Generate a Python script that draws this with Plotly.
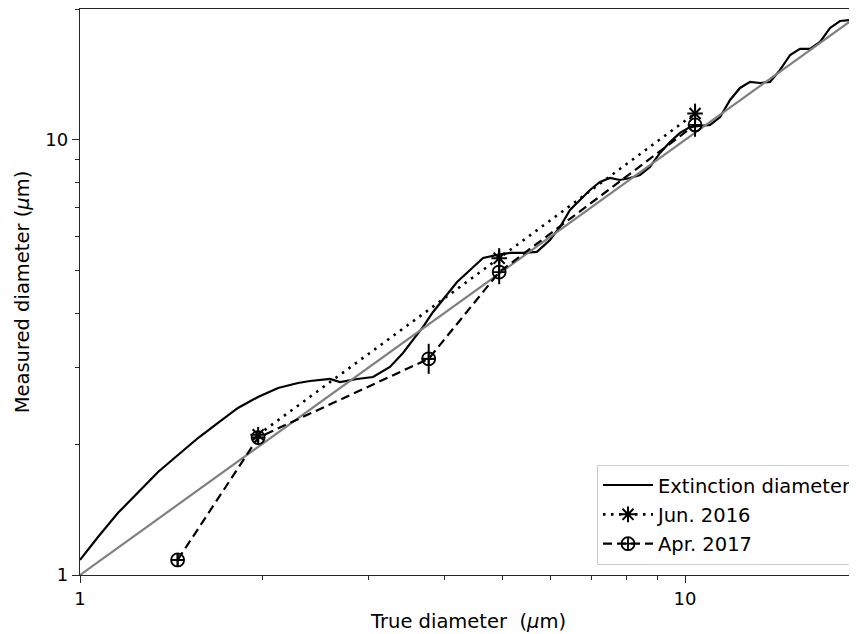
import plotly.graph_objects as go

# Extinction diameter curve (true diameter, measured diameter), micrometres
ext_x = [1.000, 1.071, 1.155, 1.247, 1.346, 1.452, 1.567, 1.691, 1.824, 1.969,
         2.125, 2.293, 2.400, 2.590, 2.690, 2.870, 3.050, 3.253, 3.419, 3.551,
         3.690, 3.833, 3.981, 4.200, 4.413, 4.637, 4.891, 5.137, 5.398, 5.692,
         5.981, 6.215, 6.455, 6.706, 6.966, 7.236, 7.517, 7.808, 8.111, 8.425,
         8.752, 9.092, 9.445, 9.811, 10.19, 11.00, 11.43, 11.87, 12.33, 12.81,
         13.30, 13.82, 14.36, 14.92, 15.49, 16.09, 16.72, 17.37, 18.04, 18.74, 19.24]
ext_y = [1.083, 1.223, 1.388, 1.552, 1.725, 1.887, 2.065, 2.236, 2.421, 2.566,
         2.691, 2.763, 2.792, 2.822, 2.777, 2.822, 2.852, 3.007, 3.238, 3.470,
         3.717, 4.023, 4.288, 4.716, 5.025, 5.355, 5.441, 5.500, 5.500, 5.529,
         5.890, 6.310, 6.904, 7.280, 7.675, 8.006, 8.178, 8.091, 8.178, 8.310,
         8.667, 9.336, 9.894, 10.38, 10.71, 10.83, 11.29, 12.36, 13.17, 13.60,
         13.52, 13.60, 14.49, 15.68, 16.19, 16.19, 16.80, 18.09, 18.77, 18.87, 19.17]

# 1:1 reference line
ref_x = [1, 20]
ref_y = [1, 20]

# Jun. 2016 measurements
jun_x = [1.97, 4.93, 10.39]
jun_y = [2.10, 5.35, 11.50]
jun_err_plus = [0.05, 0.29, 0.62]
jun_err_minus = [0.05, 0.27, 0.59]

# Apr. 2017 measurements
apr_x = [1.45, 1.97, 3.77, 4.93, 10.39]
apr_y = [1.083, 2.07, 3.14, 4.97, 10.83]
apr_err_plus = [0.04, 0.05, 0.26, 0.33, 0.71]
apr_err_minus = [0.04, 0.05, 0.24, 0.31, 0.66]
apr_xerr = [0.03, 0.04, 0.10, 0.0, 0.0]

major_ticks = [1, 10]
major_labels = ["1", "10"]
minor_ticks = [2, 3, 4, 5, 6, 7, 8, 9, 20]

FONT = "DejaVu Sans"

fig = go.Figure()

fig.add_trace(go.Scatter(
    x=ext_x, y=ext_y, mode="lines", name="Extinction diameter",
    legendgroup="a",
    line=dict(color="black", width=2.2),
))
fig.add_trace(go.Scatter(
    x=ref_x, y=ref_y, mode="lines", showlegend=False,
    line=dict(color="#808080", width=2.2),
))
fig.add_trace(go.Scatter(
    x=jun_x, y=jun_y, mode="lines+markers", name="Jun. 2016",
    legendgroup="b",
    line=dict(color="black", width=2.6, dash="2.5px,5.5px"),
    marker=dict(symbol="asterisk-open", size=13, color="black",
                line=dict(color="black", width=2)),
    error_y=dict(type="data", symmetric=False, array=jun_err_plus,
                 arrayminus=jun_err_minus, color="black", thickness=2, width=0),
))
fig.add_trace(go.Scatter(
    x=apr_x, y=apr_y, mode="lines+markers", name="Apr. 2017",
    legendgroup="c",
    line=dict(color="black", width=2.2, dash="9px,5px"),
    marker=dict(symbol="circle-cross-open", size=13, color="black",
                line=dict(color="black", width=1.8)),
    error_y=dict(type="data", symmetric=False, array=apr_err_plus,
                 arrayminus=apr_err_minus, color="black", thickness=2, width=0),
    error_x=dict(type="data", array=apr_xerr, color="black", thickness=2, width=0),
))

axis_common = dict(
    type="log",
    showgrid=False,
    zeroline=False,
    showline=True,
    linecolor="#262626",
    linewidth=1.4,
    ticks="outside",
    ticklen=7,
    tickwidth=1.2,
    tickcolor="#262626",
    tickvals=major_ticks,
    ticktext=major_labels,
    tickfont=dict(family=FONT, size=18, color="black"),
    minor=dict(ticks="outside", ticklen=4, tickwidth=1, tickcolor="#262626",
               tickvals=minor_ticks, showgrid=False),
)

fig.update_xaxes(
    **axis_common,
    range=[0, 1.2843],
    mirror=True,
    title=dict(text="True diameter\u00a0 (<i>μ</i>m)", font=dict(family=FONT, size=19.5, color="black"),
               standoff=6),
)
fig.update_yaxes(
    **axis_common,
    range=[0, 1.30103],
    mirror=False,
    title=dict(text="Measured diameter (<i>μ</i>m)", font=dict(family=FONT, size=19.5, color="black"),
               standoff=10),
)

# The page body has an 8px margin, so the figure is placed 8px in from the
# window's top-left corner; size and margins compensate for that.
fig.update_layout(
    width=849, height=626,
    margin=dict(l=72, r=0, t=1, b=59),
    paper_bgcolor="white",
    plot_bgcolor="white",
    font=dict(family=FONT, size=19.5, color="black"),
    legend=dict(
        x=1.0, y=0.018, xanchor="right", yanchor="bottom",
        bgcolor="rgba(255,255,255,0.85)",
        bordercolor="#cccccc", borderwidth=1,
        font=dict(family=FONT, size=19.5, color="black"),
        tracegroupgap=1,
        itemwidth=50,
    ),
    showlegend=True,
)

fig.write_html("out.html")
